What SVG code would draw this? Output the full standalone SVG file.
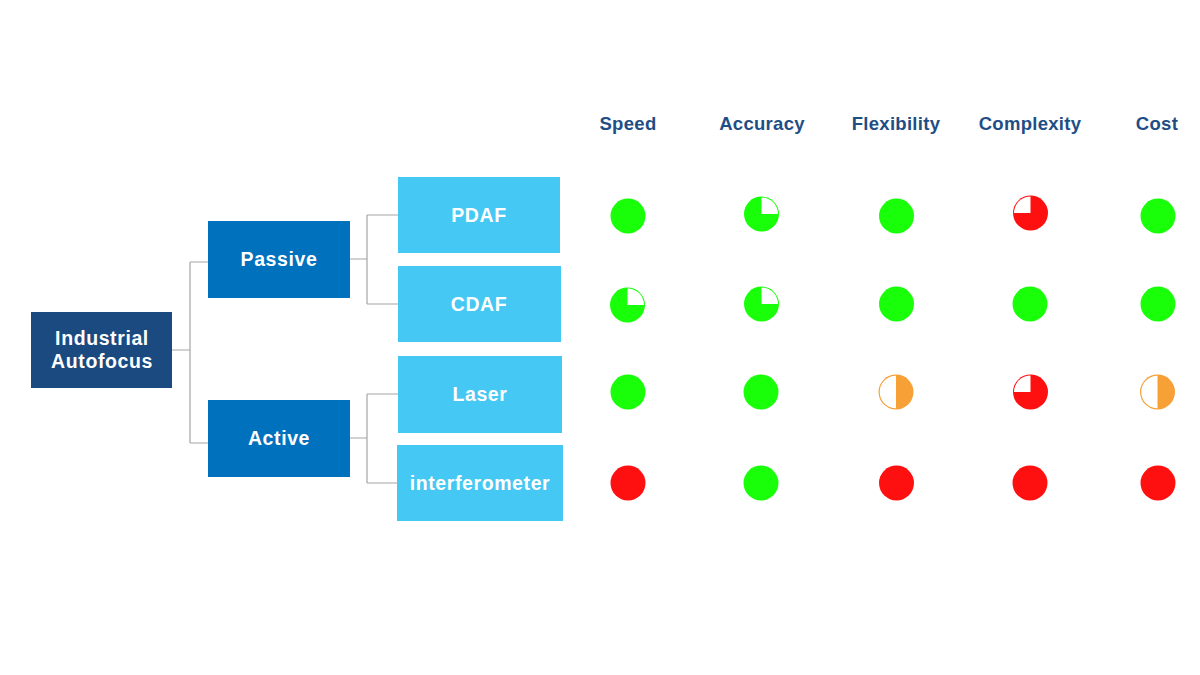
<svg xmlns="http://www.w3.org/2000/svg" width="1200" height="675" viewBox="0 0 1200 675">
<style>
.hdr{font-family:"Liberation Sans",Arial,sans-serif;font-weight:bold;font-size:18.5px;fill:#1f4e85;text-anchor:middle;letter-spacing:0.3px}
.lbl{font-family:"Liberation Sans",Arial,sans-serif;font-weight:bold;font-size:19.5px;fill:#ffffff;text-anchor:middle;letter-spacing:0.6px}
.root{fill:#1a4a80}
.mid{fill:#0071bc}
.leaf{fill:#45c8f3}
.conn{stroke:#a6a6a6;stroke-width:1.2;fill:none}
.g{fill:#19ff0a}
.r{fill:#ff1010}
.o{fill:#f7a035}
</style>
<rect width="1200" height="675" fill="#ffffff"/>
<g id="headers">
<text class="hdr" x="628" y="130">Speed</text>
<text class="hdr" x="762" y="130">Accuracy</text>
<text class="hdr" x="896" y="130">Flexibility</text>
<text class="hdr" x="1030" y="130">Complexity</text>
<text class="hdr" x="1157" y="130">Cost</text>
</g>
<g id="connectors">
<path class="conn" d="M172 350 H190 M190 262 V443 M190 262 H208 M190 443 H208"/>
<path class="conn" d="M350 259 H367 M367 215 V304 M367 215 H398 M367 304 H398"/>
<path class="conn" d="M350 438 H367 M367 394 V483 M367 394 H398 M367 483 H397"/>
</g>
<g id="industrial-autofocus">
<rect class="root" x="31" y="312" width="141" height="76"/>
<text class="lbl" x="102" y="345">Industrial</text>
<text class="lbl" x="102" y="368">Autofocus</text>
</g>
<g id="passive">
<rect class="mid" x="208" y="221" width="142" height="77"/>
<text class="lbl" x="279" y="266">Passive</text>
</g>
<g id="active">
<rect class="mid" x="208" y="400" width="142" height="77"/>
<text class="lbl" x="279" y="445">Active</text>
</g>
<g id="pdaf">
<rect class="leaf" x="398" y="177" width="162" height="76"/>
<text class="lbl" x="479" y="222">PDAF</text>
</g>
<g id="cdaf">
<rect class="leaf" x="398" y="266" width="163" height="76"/>
<text class="lbl" x="479" y="311">CDAF</text>
</g>
<g id="laser">
<rect class="leaf" x="398" y="356" width="164" height="77"/>
<text class="lbl" x="480" y="401">Laser</text>
</g>
<g id="interferometer">
<rect class="leaf" x="397" y="445" width="166" height="76"/>
<text class="lbl" x="480" y="490">interferometer</text>
</g>
<g id="ratings">
<circle class="g" cx="628" cy="216" r="17.5"/>
<g transform="translate(761.5,214)"><circle class="g" r="17.5"/><path d="M0 0 V-16.5 A16.5 16.5 0 0 1 16.5 0 Z" fill="#ffffff"/></g>
<circle class="g" cx="896.5" cy="216" r="17.5"/>
<g transform="translate(1030.5,213)"><circle class="r" r="17.5"/><path d="M0 0 V-16.5 A16.5 16.5 0 0 0 -16.5 0 Z" fill="#ffffff"/></g>
<circle class="g" cx="1158" cy="216" r="17.5"/>
<g transform="translate(627.5,305)"><circle class="g" r="17.5"/><path d="M0 0 V-16.5 A16.5 16.5 0 0 1 16.5 0 Z" fill="#ffffff"/></g>
<g transform="translate(761.5,304)"><circle class="g" r="17.5"/><path d="M0 0 V-16.5 A16.5 16.5 0 0 1 16.5 0 Z" fill="#ffffff"/></g>
<circle class="g" cx="896.5" cy="304" r="17.5"/>
<circle class="g" cx="1030" cy="304" r="17.5"/>
<circle class="g" cx="1158" cy="304" r="17.5"/>
<circle class="g" cx="628" cy="392" r="17.5"/>
<circle class="g" cx="761" cy="392" r="17.5"/>
<g transform="translate(896,392)"><circle class="o" r="17.5"/><path d="M0 -16.3 A16.3 16.3 0 0 0 0 16.3 Z" fill="#ffffff"/></g>
<g transform="translate(1030.5,392)"><circle class="r" r="17.5"/><path d="M0 0 V-16.5 A16.5 16.5 0 0 0 -16.5 0 Z" fill="#ffffff"/></g>
<g transform="translate(1157.5,392)"><circle class="o" r="17.5"/><path d="M0 -16.3 A16.3 16.3 0 0 0 0 16.3 Z" fill="#ffffff"/></g>
<circle class="r" cx="628" cy="483" r="17.5"/>
<circle class="g" cx="761" cy="483" r="17.5"/>
<circle class="r" cx="896.5" cy="483" r="17.5"/>
<circle class="r" cx="1030" cy="483" r="17.5"/>
<circle class="r" cx="1158" cy="483" r="17.5"/>
</g>
</svg>
